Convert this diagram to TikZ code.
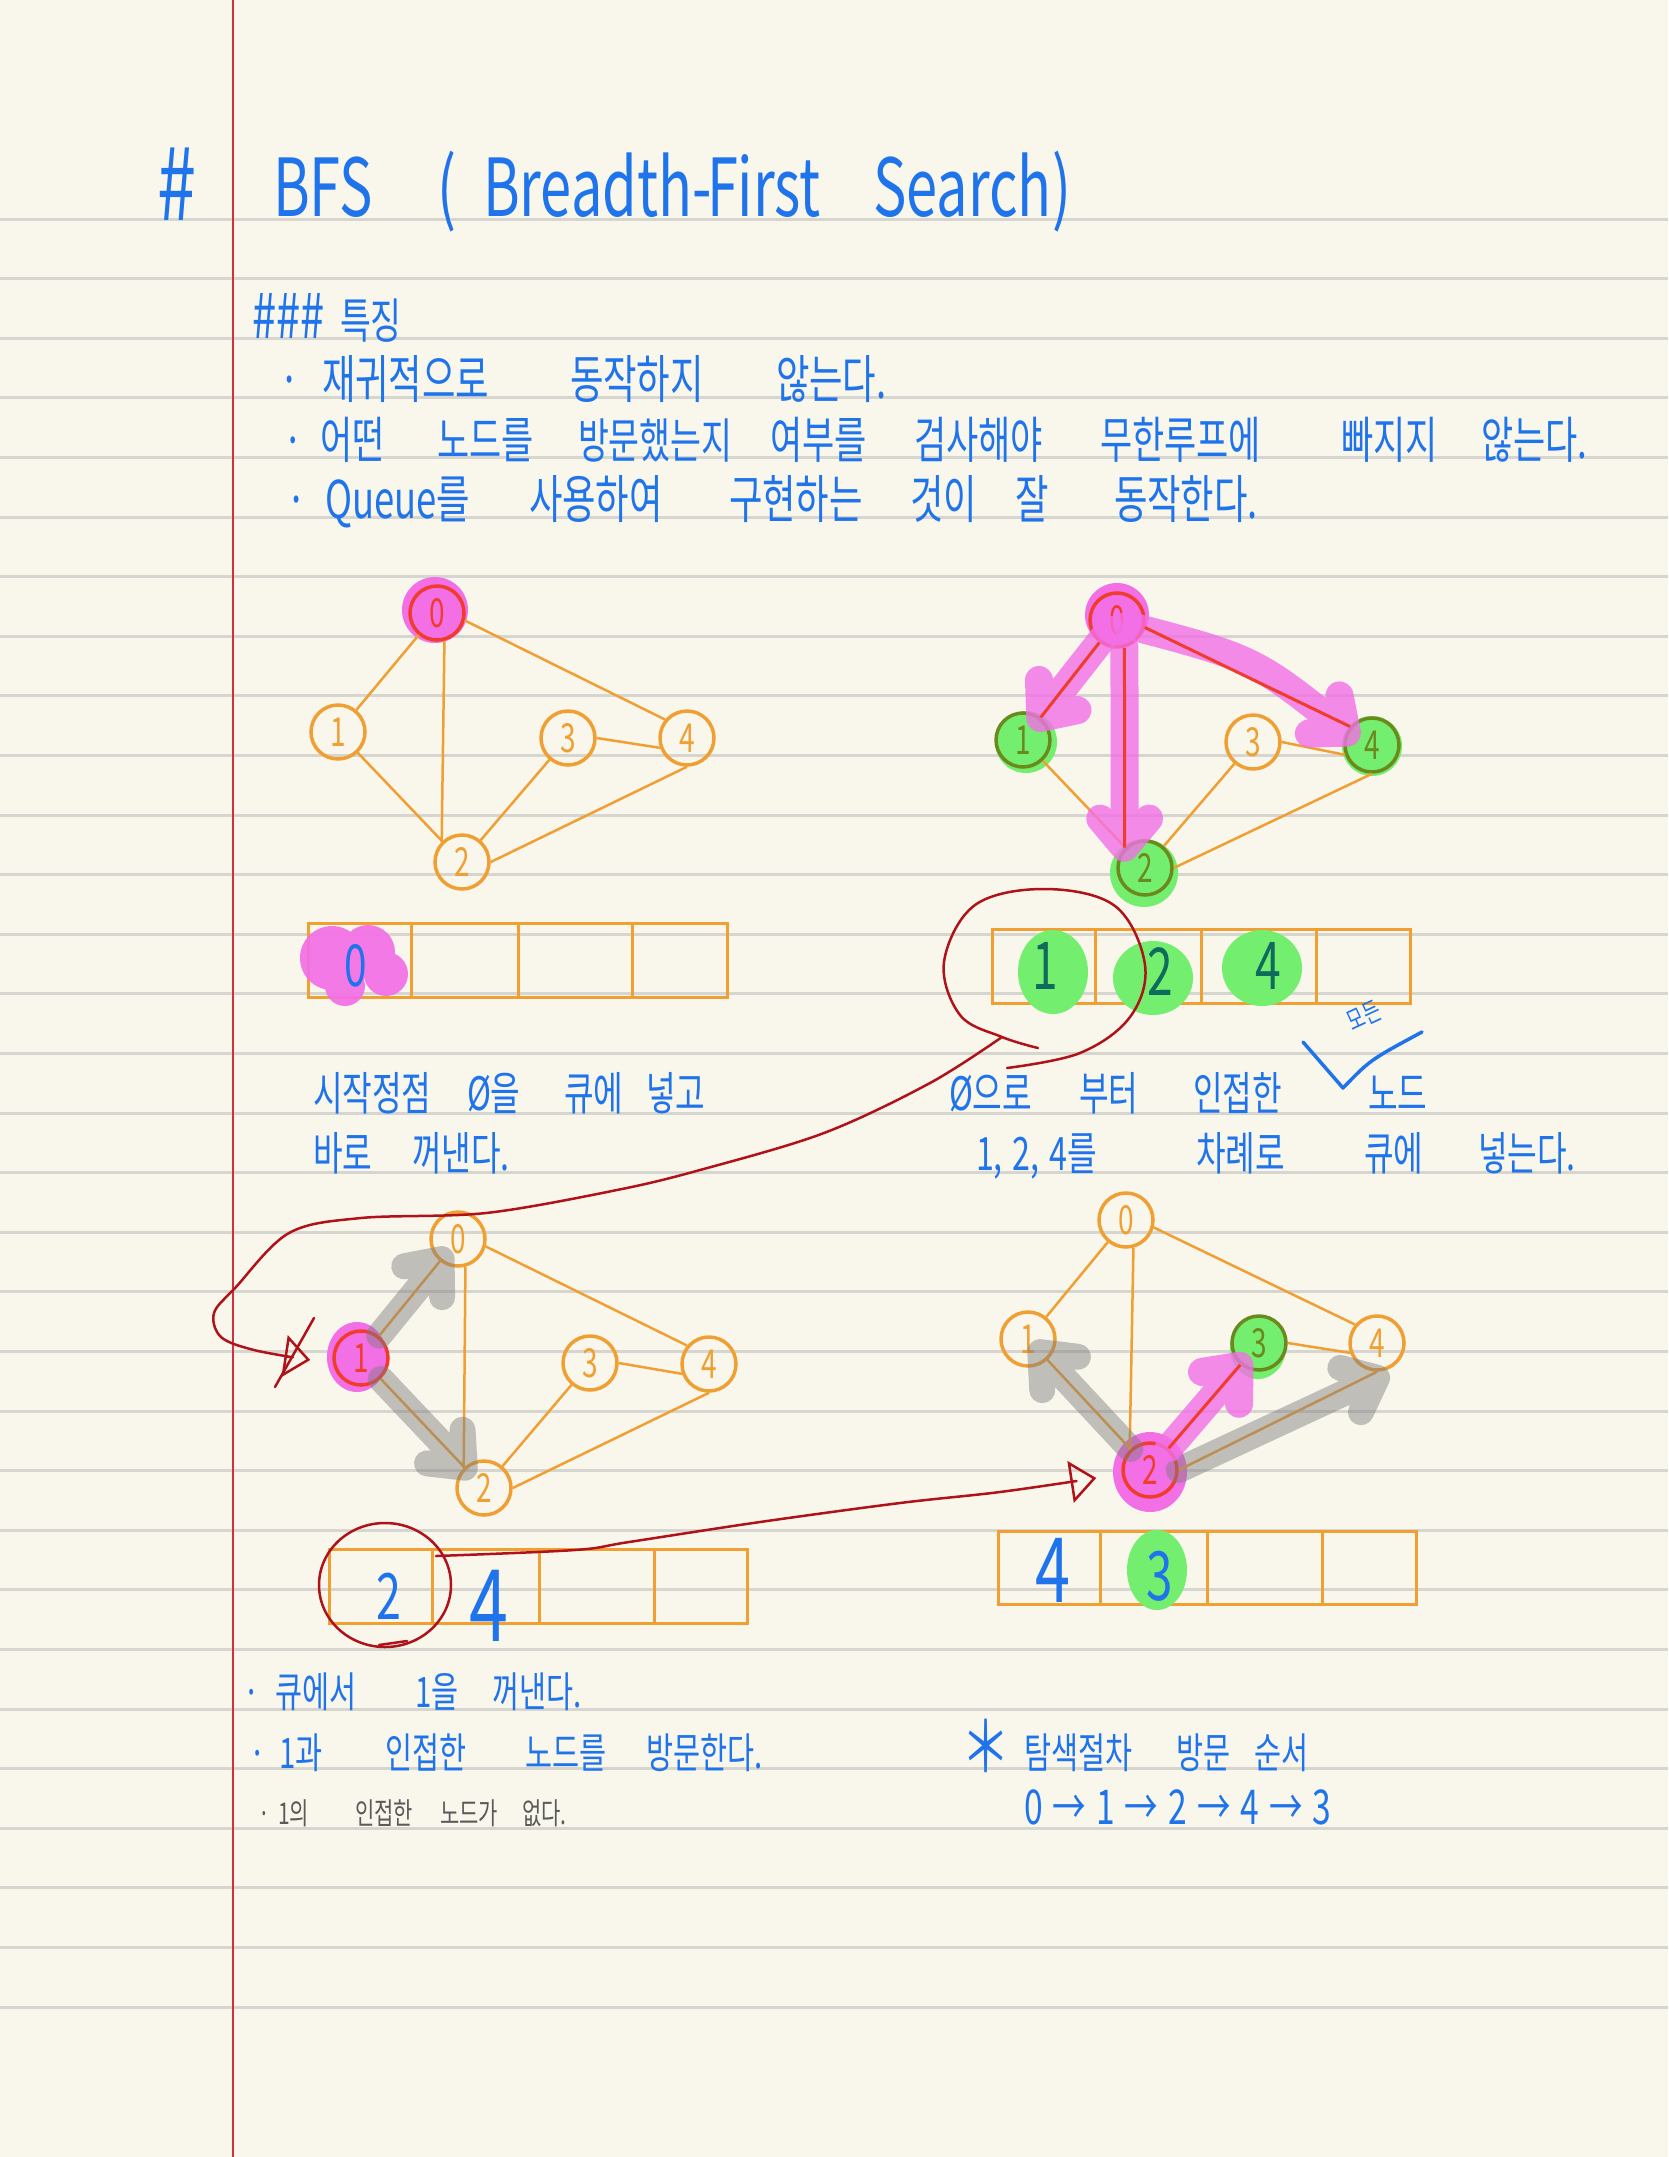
\documentclass[tikz,border=0pt]{standalone}
\usepackage{fontspec}
\newfontfamily\hand[FakeStretch=0.7]{Noto Sans CJK KR}
\usetikzlibrary{calc,arrows.meta}
\definecolor{bgC}{HTML}{F9F6EC}
\definecolor{ruleC}{HTML}{D6D5D0}
\definecolor{marginC}{HTML}{D2303E}
\definecolor{blueC}{HTML}{1F74EB}
\definecolor{orC}{HTML}{F0A033}
\definecolor{pinkC}{HTML}{F36FE6}
\definecolor{redC}{HTML}{F03C2C}
\definecolor{greenC}{HTML}{74EE6E}
\definecolor{oliveC}{HTML}{6A8A1E}
\definecolor{tealC}{HTML}{0F6B5C}
\definecolor{grayH}{HTML}{7C7C7C}
\definecolor{inkRed}{HTML}{B0121A}
\definecolor{grayT}{HTML}{5A5A5A}
\newcommand\fs[1]{\fontsize{#1}{#1}\selectfont}
\newcommand\gedges[1]{%
  \draw[edge] (#1n0) -- (#1n1);
  \draw[edge] (#1n0.-75) -- (#1n2.north west);
  \draw[edge] (#1n0.-15) -- (#1n4.140);
  \draw[edge] (#1n1) -- (#1n2);
  \draw[edge] (#1n2) -- (#1n3);
  \draw[edge] (#1n2.east) -- (#1n4.south);
  \draw[edge] (#1n3.east) -- (#1n4.-160);
}
\newcommand\hl[4]{%
  \draw[#1] (#2) -- (#3) ($(#3)!38pt!40:(#4)$) -- (#3) -- ($(#3)!38pt!-40:(#4)$);
}
\newcommand\queue[5]{%
  \draw[qbox] (#1,#2) rectangle (#3,#4);
  \foreach \d in {#5} \draw[qbox] (\d,#2) -- (\d,#4);
}
\begin{document}
\begin{tikzpicture}[x=1pt,y=-1pt,
  tx/.style={anchor=base west, inner sep=0pt, outer sep=0pt, text=blueC},
  gn/.style={circle, draw=orC, line width=3.5pt, minimum size=54pt, inner sep=0pt, text=orC, font=\hand\fs{40}},
  pn/.style={gn, draw=redC, text=redC},
  vn/.style={gn, draw=oliveC, text=oliveC},
  edge/.style={draw=orC, line width=2.5pt},
  redge/.style={draw=redC, line width=3pt},
  hlP/.style={draw=pinkC, opacity=0.8, line width=28pt, line cap=round, line join=round},
  hlG/.style={draw=grayH, opacity=0.45, line width=26pt, line cap=round, line join=round},
  qbox/.style={draw=orC, line width=3pt},
  ink/.style={draw=inkRed, line width=2.5pt, line cap=round, line join=round},
  qd/.style={inner sep=0pt, text=blueC},
  tipo/.style={-{Triangle[open,length=26pt,width=42pt]}}
]
\useasboundingbox (0,0) rectangle (1668,2157);
\fill[bgC] (0,0) rectangle (1668,2157);
\foreach \i in {0,...,30} \draw[ruleC, line width=3pt] (0,{219+59.6*\i}) -- (1668,{219+59.6*\i});
\draw[marginC, line width=2pt] (233,0) -- (233,2157);

% ---------- title and notes ----------
\node[tx,font=\hand\fs{100}] (t0) at (157,220) {\#};
\node[tx,font=\hand\fs{80}] (t1) at (273,216) {BFS};
\node[tx,font=\hand\fs{80}] (t2) at (437,216) {(};
\node[tx,font=\hand\fs{80}] (t3) at (483,216) {Breadth-};
\node[tx,font=\hand\fs{80}] (t4) at (707,216) {First};
\node[tx,font=\hand\fs{80}] (t5) at (873,216) {Search};
\node[tx,font=\hand\fs{80}] (t6) at (1052,216) {)};

\node[tx,font=\hand\fs{62}] (h0) at (252,338) {\#\#\#};
\node[tx,font=\hand\fs{48}] (h1) at (340,338) {특징};

\node[tx,font=\hand\fs{52},anchor=base] (b1) at (290,398) {·};
\node[tx,font=\hand\fs{52}] (a1) at (322,398) {재귀적으로};
\node[tx,font=\hand\fs{52}] (a2) at (570,398) {동작하지};
\node[tx,font=\hand\fs{52}] (a3) at (776,398) {않는다.};

\node[tx,font=\hand\fs{50},anchor=base] (b2) at (293,458) {·};
\node[tx,font=\hand\fs{50}] (c1) at (320,458) {어떤};
\node[tx,font=\hand\fs{50}] (c2) at (437,458) {노드를};
\node[tx,font=\hand\fs{48}] (c3) at (578,458) {방문했는지};
\node[tx,font=\hand\fs{50}] (c4) at (770,458) {여부를};
\node[tx,font=\hand\fs{50}] (c5) at (914,458) {검사해야};
\node[tx,font=\hand\fs{50}] (c6) at (1100,458) {무한루프에};
\node[tx,font=\hand\fs{50}] (c7) at (1341,458) {빠지지};
\node[tx,font=\hand\fs{50}] (c8) at (1481,458) {않는다.};

\node[tx,font=\hand\fs{52},anchor=base] (b3) at (297,518) {·};
\node[tx,font=\hand\fs{52}] (d1) at (325,518) {Queue를};
\node[tx,font=\hand\fs{52}] (d2) at (529,518) {사용하여};
\node[tx,font=\hand\fs{52}] (d3) at (729,518) {구현하는};
\node[tx,font=\hand\fs{52}] (d4) at (910,518) {것이};
\node[tx,font=\hand\fs{52}] (d5) at (1015,518) {잘};
\node[tx,font=\hand\fs{52}] (d6) at (1114,518) {동작한다.};

% ---------- graph 1 ----------
\fill[pinkC] (435,610) circle (33);
\node[pn] (g1n0) at (437,613) {0};
\node[gn] (g1n1) at (338,732) {1};
\node[gn] (g1n3) at (568,738) {3};
\node[gn] (g1n4) at (687,738) {4};
\node[gn] (g1n2) at (462,862) {2};
\gedges{g1}
\queue{308}{923}{727}{997}{411,518,632}
\fill[pinkC, opacity=0.92] (332,958) circle (32) (368,952) circle (27) (386,974) circle (22) (345,986) circle (20);
\node[qd,font=\hand\fs{58}] (q1a) at (356,966) {0};

% ---------- graph 2 ----------
\fill[pinkC] (1117,615) circle (32);
\fill[greenC] (1026,742) circle (31) (1144,873) circle (34) (1372,746) circle (30);
\node[pn] (g2n0) at (1117,620) {0};
\node[vn] (g2n1) at (1023,740) {1};
\node[gn] (g2n3) at (1253,742) {3};
\node[vn] (g2n4) at (1372,745) {4};
\node[vn] (g2n2) at (1145,868) {2};
\gedges{g2}
\coordinate (s21) at ($(g2n0)!12pt!(g2n1)$);
\coordinate (t21) at ($(g2n1)!28pt!(g2n0)$);
\hl{hlP}{s21}{t21}{g2n0}
\coordinate (s22) at (g2n0.-75);
\coordinate (t22) at (g2n2.north west);
\hl{hlP}{s22}{t22}{s22}
\coordinate (s24) at ($(g2n0)!12pt!(g2n4)$);
\coordinate (c24) at ($(g2n0)!0.5!(g2n4)+(10,-24)$);
\coordinate (t24) at ($(g2n4)!28pt!(g2n0)$);
\draw[hlP] (s24) .. controls (c24) .. (t24) ($(t24)!38pt!40:(c24)$) -- (t24) -- ($(t24)!38pt!-40:(c24)$);
\draw[redge] (g2n0) -- (g2n1);
\draw[redge] (g2n0.-75) -- (g2n2.north west);
\draw[redge] (g2n0.-15) -- (g2n4.140);
\queue{992}{929}{1410}{1003}{1095,1201,1316}
\fill[greenC] (1053,972) ellipse [x radius=35, y radius=42];
\fill[greenC] (1153,978) ellipse [x radius=40, y radius=37];
\fill[greenC] (1262,968) ellipse [x radius=40, y radius=38];
\node[qd,text=tealC,font=\hand\fs{66}] (q2a) at (1045,966) {1};
\node[qd,text=tealC,font=\hand\fs{66}] (q2b) at (1160,972) {2};
\node[qd,text=tealC,font=\hand\fs{66}] (q2c) at (1268,966) {4};

\node[tx,font=\hand\fs{46}] (e1) at (313,1110) {시작정점};
\node[tx,font=\hand\fs{46}] (e2) at (467,1110) {Ø을};
\node[tx,font=\hand\fs{46}] (e3) at (564,1110) {큐에};
\node[tx,font=\hand\fs{46}] (e4) at (646,1110) {넣고};
\node[tx,font=\hand\fs{46}] (e5) at (313,1170) {바로};
\node[tx,font=\hand\fs{46}] (e6) at (412,1170) {꺼낸다.};

\node[tx,font=\hand\fs{46}] (f1) at (949,1110) {Ø으로};
\node[tx,font=\hand\fs{46}] (f2) at (1079,1110) {부터};
\node[tx,font=\hand\fs{46}] (f3) at (1193,1110) {인접한};
\node[tx,font=\hand\fs{46}] (f4) at (1368,1110) {노드};
\node[font=\hand\fs{26}, text=blueC, rotate=25, inner sep=0pt] (f5) at (1364,1016) {모든};
\draw[blueC, line width=3.5pt, line cap=round, line join=round] (1303,1042) -- (1343,1088) .. controls (1370,1060) .. (1422,1032);
\node[tx,font=\hand\fs{46}] (f6) at (976,1170) {1,\hspace{10pt}2,\hspace{10pt}4를};
\node[tx,font=\hand\fs{46}] (f7) at (1196,1170) {차례로};
\node[tx,font=\hand\fs{46}] (f8) at (1364,1170) {큐에};
\node[tx,font=\hand\fs{46}] (f9) at (1478,1170) {넣는다.};

% ---------- graph 3 ----------
\fill[pinkC] (357,1357) ellipse [x radius=30, y radius=35];
\node[gn] (g3n0) at (458,1239) {0};
\node[pn] (g3n1) at (361,1358) {1};
\node[gn] (g3n3) at (590,1363) {3};
\node[gn] (g3n4) at (709,1364) {4};
\node[gn] (g3n2) at (484,1488) {2};
\gedges{g3}
\coordinate (t30) at ($(g3n0)!26pt!(g3n1)$);
\hl{hlG}{g3n1}{t30}{g3n1}
\coordinate (t32) at ($(g3n2)!28pt!(g3n1)$);
\hl{hlG}{g3n1}{t32}{g3n1}
\queue{329}{1549}{747}{1623}{432,539,654}
\node[qd,font=\hand\fs{64}] (q3a) at (389,1596) {2};
\node[qd,font=\hand\fs{100}] (q3b) at (489,1606) {4};

% ---------- graph 4 ----------
\fill[pinkC] (1150,1472) ellipse [x radius=37, y radius=40];
\fill[greenC] (1258,1347) ellipse [x radius=28, y radius=32];
\node[gn] (g4n0) at (1126,1220) {0};
\node[gn] (g4n1) at (1028,1339) {1};
\node[vn] (g4n3) at (1259,1343) {3};
\node[gn] (g4n4) at (1377,1343) {4};
\node[pn] (g4n2) at (1150,1470) {2};
\gedges{g4}
\coordinate (t41) at ($(g4n1)!18pt!(g4n2)$);
\hl{hlG}{g4n2}{t41}{g4n2}
\coordinate (t44) at ($(g4n4.south)+(0,6)$);
\hl{hlG}{g4n2.east}{t44}{g4n2.east}
\coordinate (t43) at ($(g4n3)!30pt!(g4n2)$);
\hl{hlP}{g4n2}{t43}{g4n2}
\draw[redge] (g4n2) -- (g4n3);
\queue{998}{1531}{1416}{1604}{1100,1207,1322}
\fill[greenC] (1157,1570) ellipse [x radius=30, y radius=40];
\node[qd,font=\hand\fs{90}] (q4a) at (1053,1570) {4};
\node[qd,font=\hand\fs{68}] (q4b) at (1160,1576) {3};

% ---------- red annotation connectors ----------
\draw[ink] plot[smooth, tension=0.6] coordinates {(1007,1068) (1080,1053) (1130,1017) (1145,965) (1115,906) (1045,889) (975,905) (944,962) (960,1015) (1002,1037) (1038,1048)};
\coordinate (loopA) at (1002,1037);
\coordinate (tipA) at ($(g3n1.west)+(-22,2)$);
\draw[ink,tipo] plot[smooth, tension=0.55] coordinates {(loopA) (930,1083) (824,1133) (700,1170) (617,1190) (486,1213) (361,1218) (289,1233) (236,1287) (214,1313) (221,1337) (254,1350) (tipA)};
\draw[ink] (314,1318) -- (275,1387);

\draw[ink] (385,1585) ellipse [x radius=66, y radius=62];
\draw[ink] (379,1645) -- (407,1641);
\coordinate (loopB) at (436,1556);
\coordinate (tipB) at ($(g4n2.west)+(-25,8)$);
\draw[ink,tipo] plot[smooth, tension=0.55] coordinates {(loopB) (575,1550) (629,1542) (760,1522) (900,1503) (1000,1492) (tipB)};

% ---------- bottom notes ----------
\node[tx,font=\hand\fs{42},anchor=base] (b4) at (252,1707) {·};
\node[tx,font=\hand\fs{42}] (k1) at (275,1707) {큐에서};
\node[tx,font=\hand\fs{42}] (k2) at (415,1707) {1을};
\node[tx,font=\hand\fs{42}] (k3) at (492,1707) {꺼낸다.};
\node[tx,font=\hand\fs{42},anchor=base] (b5) at (258,1768) {·};
\node[tx,font=\hand\fs{42}] (m1) at (279,1768) {1과};
\node[tx,font=\hand\fs{42}] (m2) at (385,1768) {인접한};
\node[tx,font=\hand\fs{42}] (m3) at (525,1768) {노드를};
\node[tx,font=\hand\fs{42}] (m4) at (646,1768) {방문한다.};
\node[tx,text=grayT,font=\hand\fs{30},anchor=base] (b6) at (264,1824) {·};
\node[tx,text=grayT,font=\hand\fs{30}] (n1) at (278,1824) {1의};
\node[tx,text=grayT,font=\hand\fs{30}] (n2) at (355,1824) {인접한};
\node[tx,text=grayT,font=\hand\fs{30}] (n3) at (440,1824) {노드가};
\node[tx,text=grayT,font=\hand\fs{30}] (n4) at (522,1824) {없다.};

\node[inner sep=0pt,text=blueC,font=\hand\fs{70}] (p0) at (986,1746) {＊};
\node[tx,font=\hand\fs{42}] (p1) at (1024,1768) {탐색절차};
\node[tx,font=\hand\fs{42}] (p2) at (1176,1768) {방문};
\node[tx,font=\hand\fs{42}] (p3) at (1254,1768) {순서};
\node[tx,font=\hand\fs{48}] (p4) at (1024,1824) {0\kern10pt→\kern10pt1\kern10pt→\kern10pt2\kern10pt→\kern10pt4\kern10pt→\kern10pt3};
\end{tikzpicture}
\end{document}
